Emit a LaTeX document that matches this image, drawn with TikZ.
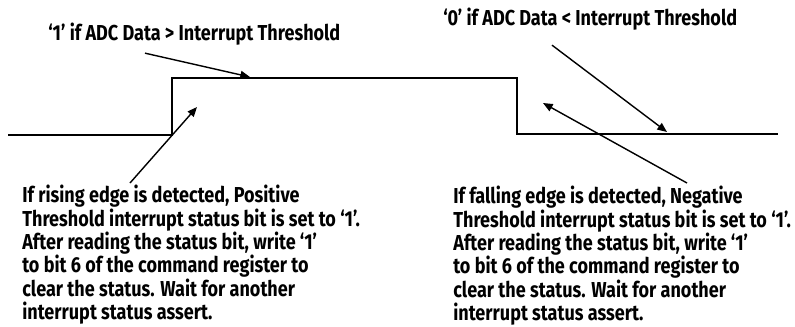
\documentclass[tikz,border=0pt]{standalone}
\usepackage{fontspec}
\setmainfont[FakeStretch=0.835]{Fira Sans}
\usetikzlibrary{arrows.meta,calc,positioning}
\definecolor{ink}{RGB}{0,0,0}

\begin{document}
\begin{tikzpicture}[x=0.02cm, y=-0.02cm, ink,
    wave/.style={line width=1.2pt, line join=miter},
    ptr/.style={line width=0.8pt, -{Triangle[length=5.5pt,width=4.5pt]}},
    lbl/.style={inner sep=0pt, font=\fontsize{12.3}{13.3}\selectfont\bfseries},
    note/.style={lbl, align=left, anchor=north west}]

    \useasboundingbox (0,0) rectangle (795,326);

    % signal
    \draw[wave] (8,135) -- (172,135) -- (172,78) -- (517,78) -- (517,134) -- (778,134);

    \coordinate (hitip) at (250,77);
    \coordinate (lotip) at (667,132);
    \coordinate (risetip) at (197,107);
    \coordinate (falltip) at (543,103);

    \node[lbl, anchor=base west] (hi) at (48,40) {‘1’ if ADC Data > Interrupt Threshold};
    \node[lbl, anchor=base west] (lo) at (443,25) {‘0’ if ADC Data < Interrupt Threshold};

    \node[note] (rise) at (22,185) {If rising edge is detected, Positive\\
        Threshold interrupt status bit is set to ‘1’.\\
        After reading the status bit, write ‘1’\\
        to bit 6 of the command register to\\
        clear the status. Wait for another\\
        interrupt status assert.};
    \node[note] (fall) at (453,186) {If falling edge is detected, Negative\\
        Threshold interrupt status bit is set to ‘1’.\\
        After reading the status bit, write ‘1’\\
        to bit 6 of the command register to\\
        clear the status. Wait for another\\
        interrupt status assert.};

    \draw[ptr] ($(hi.south west)+(97,8)$) -- (hitip);
    \draw[ptr] ($(lo.south west)+(109,15)$) -- (lotip);
    \draw[ptr] ($(rise.north west)+(108,-2)$) -- (risetip);
    \draw[ptr] ($(fall.north west)+(234,-3)$) -- (falltip);

\end{tikzpicture}
\end{document}
